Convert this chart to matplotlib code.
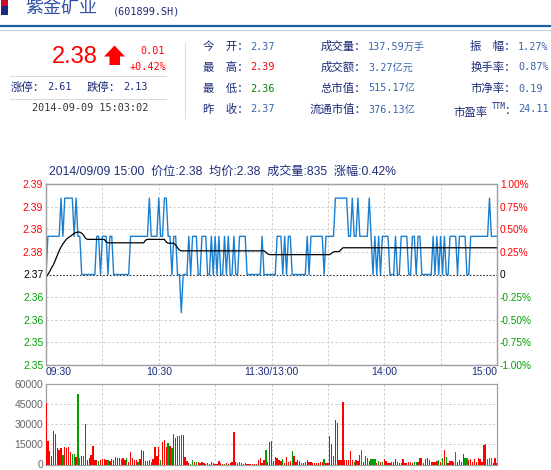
import matplotlib
matplotlib.use('Agg')
import matplotlib.pyplot as plt
from matplotlib.patches import Rectangle, Polygon

plt.rcParams['font.family'] = ['Liberation Sans', 'Noto Sans CJK SC']

W, H = 551, 470

# ---- 数据 ----
prev_close = 2.37

prices = [
    2.37, 2.38, 2.38, 2.38, 2.38, 2.38, 2.38, 2.38, 2.39, 2.38,
    2.39, 2.39, 2.39, 2.39, 2.39, 2.38, 2.39, 2.38, 2.38, 2.37,
    2.37, 2.37, 2.37, 2.37, 2.37, 2.37, 2.37, 2.38, 2.38, 2.37,
    2.38, 2.38, 2.38, 2.37, 2.38, 2.38, 2.37, 2.37, 2.37, 2.37,
    2.37, 2.37, 2.37, 2.37, 2.37, 2.38, 2.38, 2.38, 2.38, 2.38,
    2.38, 2.38, 2.38, 2.38, 2.38, 2.39, 2.38, 2.38, 2.38, 2.38,
    2.39, 2.38, 2.38, 2.39, 2.39, 2.38, 2.38, 2.37, 2.38, 2.38,
    2.37, 2.37, 2.36, 2.37, 2.37, 2.37, 2.38, 2.37, 2.38, 2.38,
    2.38, 2.37, 2.37, 2.38, 2.38, 2.38, 2.37, 2.37, 2.38, 2.37,
    2.38, 2.37, 2.38, 2.37, 2.37, 2.38, 2.37, 2.38, 2.37, 2.37,
    2.38, 2.37, 2.37, 2.38, 2.38, 2.38, 2.38, 2.37, 2.37, 2.37,
    2.37, 2.37, 2.37, 2.37, 2.37, 2.38, 2.37, 2.37, 2.37, 2.37,
    2.37, 2.37, 2.37, 2.38, 2.38, 2.38, 2.37, 2.38, 2.37, 2.38,
    2.38, 2.37, 2.37, 2.37, 2.37, 2.37, 2.37, 2.37, 2.37, 2.38,
    2.37, 2.38, 2.38, 2.38, 2.38, 2.38, 2.38, 2.38, 2.37, 2.38,
    2.38, 2.38, 2.38, 2.38, 2.39, 2.39, 2.39, 2.39, 2.39, 2.39,
    2.39, 2.38, 2.38, 2.39, 2.38, 2.38, 2.39, 2.38, 2.38, 2.38,
    2.38, 2.38, 2.39, 2.38, 2.37, 2.38, 2.37, 2.38, 2.37, 2.38,
    2.38, 2.38, 2.38, 2.37, 2.37, 2.37, 2.38, 2.37, 2.37, 2.38,
    2.38, 2.38, 2.38, 2.37, 2.37, 2.38, 2.38, 2.37, 2.38, 2.38,
    2.37, 2.37, 2.37, 2.37, 2.37, 2.37, 2.38, 2.37, 2.38, 2.37,
    2.38, 2.37, 2.38, 2.37, 2.37, 2.38, 2.38, 2.38, 2.38, 2.37,
    2.38, 2.38, 2.38, 2.38, 2.37, 2.37, 2.38, 2.38, 2.38, 2.38,
    2.38, 2.38, 2.38, 2.38, 2.38, 2.38, 2.39, 2.38, 2.38, 2.38,
    2.38,
]

avg_prices = [
    2.3693, 2.3700, 2.3708, 2.3718, 2.3726, 2.3738, 2.3750, 2.3762, 2.3772, 2.3780,
    2.3787, 2.3793, 2.3797, 2.3800, 2.3804, 2.3808, 2.3810, 2.3811, 2.3811, 2.3808,
    2.3803, 2.3795, 2.3792, 2.3792, 2.3792, 2.3792, 2.3792, 2.3792, 2.3792, 2.3792,
    2.3792, 2.3792, 2.3785, 2.3783, 2.3783, 2.3783, 2.3783, 2.3783, 2.3783, 2.3783,
    2.3783, 2.3783, 2.3783, 2.3783, 2.3783, 2.3783, 2.3783, 2.3783, 2.3783, 2.3783,
    2.3783, 2.3783, 2.3783, 2.3790, 2.3792, 2.3792, 2.3792, 2.3792, 2.3792, 2.3792,
    2.3792, 2.3792, 2.3792, 2.3792, 2.3785, 2.3782, 2.3782, 2.3782, 2.3782, 2.3777,
    2.3770, 2.3764, 2.3762, 2.3762, 2.3762, 2.3762, 2.3762, 2.3762, 2.3762, 2.3762,
    2.3762, 2.3762, 2.3762, 2.3762, 2.3762, 2.3762, 2.3762, 2.3762, 2.3762, 2.3762,
    2.3762, 2.3762, 2.3762, 2.3762, 2.3762, 2.3762, 2.3762, 2.3762, 2.3762, 2.3762,
    2.3762, 2.3762, 2.3762, 2.3762, 2.3762, 2.3762, 2.3762, 2.3762, 2.3762, 2.3762,
    2.3762, 2.3762, 2.3762, 2.3762, 2.3762, 2.3762, 2.3762, 2.3758, 2.3754, 2.3752,
    2.3752, 2.3752, 2.3752, 2.3752, 2.3752, 2.3752, 2.3752, 2.3752, 2.3752, 2.3752,
    2.3752, 2.3752, 2.3752, 2.3752, 2.3752, 2.3752, 2.3752, 2.3752, 2.3752, 2.3752,
    2.3752, 2.3752, 2.3752, 2.3752, 2.3752, 2.3752, 2.3752, 2.3752, 2.3752, 2.3752,
    2.3752, 2.3752, 2.3756, 2.3759, 2.3760, 2.3760, 2.3760, 2.3765, 2.3770, 2.3770,
    2.3770, 2.3770, 2.3770, 2.3770, 2.3770, 2.3770, 2.3770, 2.3770, 2.3770, 2.3770,
    2.3770, 2.3770, 2.3770, 2.3770, 2.3770, 2.3770, 2.3770, 2.3770, 2.3770, 2.3770,
    2.3770, 2.3770, 2.3770, 2.3770, 2.3770, 2.3770, 2.3770, 2.3770, 2.3770, 2.3770,
    2.3770, 2.3770, 2.3770, 2.3770, 2.3770, 2.3770, 2.3770, 2.3770, 2.3770, 2.3770,
    2.3770, 2.3770, 2.3770, 2.3770, 2.3770, 2.3770, 2.3770, 2.3770, 2.3770, 2.3770,
    2.3770, 2.3770, 2.3770, 2.3770, 2.3770, 2.3770, 2.3770, 2.3770, 2.3770, 2.3770,
    2.3770, 2.3770, 2.3770, 2.3770, 2.3770, 2.3770, 2.3770, 2.3770, 2.3770, 2.3770,
    2.3770, 2.3770, 2.3770, 2.3770, 2.3770, 2.3770, 2.3770, 2.3770, 2.3770, 2.3770,
    2.3770,
]

volumes = [
    45500, 17500, 10000, 6000, 25000, 23000, 12500, 11000, 12000, 7000,
    13000, 12500, 13000, 9500, 8000, 8000, 5500, 52500, 4500, 6500,
    6500, 30000, 3500, 5000, 7000, 13500, 3000, 3000, 2500, 3000,
    4000, 4000, 3500, 3000, 2500, 4000, 3500, 5500, 4500, 5000,
    4000, 5000, 3500, 5000, 2000, 9000, 5000, 3500, 3000, 2000,
    4000, 11000, 10000, 2500, 2500, 3000, 2000, 4000, 13000, 6000,
    13000, 3500, 17000, 18500, 13000, 16000, 14000, 12000, 23000, 20000,
    21000, 21000, 22000, 22000, 5500, 2500, 1000, 500, 3500, 1500,
    1500, 1500, 1000, 1500, 1000, 500, 1000, 500, 2000, 1000,
    500, 500, 2500, 1000, 500, 500, 1000, 500, 1000, 1500,
    24000, 1500, 1000, 2000, 1000, 500, 1000, 500, 500, 500,
    500, 500, 500, 3500, 5000, 1000, 3500, 11000, 1500, 17000,
    17500, 2500, 5500, 5000, 3500, 2500, 4000, 1000, 5500, 1500,
    2500, 10000, 6000, 2000, 3500, 2500, 1000, 1000, 2000, 3000,
    1500, 1500, 1000, 1000, 1000, 1000, 1500, 1500, 4000, 1000,
    1000, 21000, 15000, 6000, 33500, 31000, 3000, 3500, 46500, 3000,
    3000, 3000, 10000, 3500, 2000, 3000, 2500, 7000, 11000, 2000,
    6500, 4500, 2500, 4000, 4000, 4000, 1000, 2500, 1500, 1500,
    4000, 2500, 1000, 1000, 2000, 1500, 4000, 1500, 1000, 1000,
    4000, 1000, 1000, 1500, 1500, 1000, 2000, 2000, 1500, 4500,
    4500, 1000, 4000, 5000, 3000, 2000, 1500, 1500, 2500, 3500,
    1500, 5000, 11000, 5500, 1000, 2500, 2500, 2000, 9000, 2000,
    3500, 2000, 7500, 5000, 5000, 3500, 4000, 2000, 4000, 1500,
    5000, 4000, 2000, 14500, 15500, 4000, 4500, 5000, 1000, 5000,
    1000,
]

# 1 = 红柱, 0 = 绿柱
vol_up = [
    1, 1, 1, 1, 1, 1, 1, 1, 1, 0,
    1, 1, 1, 1, 0, 0, 1, 0, 0, 1,
    0, 1, 1, 1, 1, 1, 1, 1, 0, 1,
    1, 1, 1, 0, 1, 1, 1, 1, 1, 1,
    0, 1, 1, 0, 1, 1, 1, 1, 1, 0,
    1, 1, 1, 1, 1, 1, 0, 1, 1, 1,
    1, 0, 1, 1, 1, 0, 1, 0, 1, 1,
    1, 0, 0, 1, 1, 1, 1, 0, 0, 1,
    0, 1, 1, 1, 1, 1, 1, 1, 1, 1,
    1, 1, 1, 1, 1, 0, 1, 1, 1, 1,
    1, 1, 0, 1, 1, 1, 1, 1, 1, 1,
    1, 1, 1, 1, 1, 1, 1, 0, 1, 1,
    1, 1, 1, 1, 1, 1, 0, 1, 1, 1,
    1, 0, 1, 1, 1, 1, 1, 1, 1, 1,
    1, 1, 1, 1, 1, 1, 1, 1, 0, 1,
    1, 1, 1, 1, 1, 1, 1, 1, 1, 1,
    1, 1, 1, 1, 0, 1, 1, 1, 0, 1,
    1, 1, 1, 0, 0, 0, 1, 0, 1, 0,
    1, 1, 1, 1, 0, 1, 1, 1, 1, 1,
    1, 1, 1, 1, 1, 1, 0, 0, 1, 1,
    1, 1, 1, 1, 1, 1, 1, 1, 1, 0,
    1, 0, 1, 0, 1, 1, 1, 1, 0, 1,
    1, 1, 1, 0, 0, 1, 1, 1, 1, 1,
    1, 1, 1, 1, 1, 0, 0, 0, 1, 1,
    1,
]

time_ticks = [0, 60, 120, 180, 240]
time_labels = ['09:30', '10:30', '11:30/13:00', '14:00', '15:00']
pct_ticks = [1.00, 0.75, 0.50, 0.25, 0, -0.25, -0.50, -0.75, -1.00]
vol_ticks = [0, 15000, 30000, 45000, 60000]

title_text = '2014/09/09 15:00  价位:2.38  均价:2.38  成交量:835  涨幅:0.42%'

labels_1 = ['今　开：', '最　高：', '最　低：', '昨　收：']
values_1 = ['2.37', '2.39', '2.36', '2.37']
labels_2 = ['成交量：', '成交额：', '总市值：', '流通市值：']
values_2 = ['137.59万手', '3.27亿元', '515.17亿', '376.13亿']
labels_3 = ['振　幅：', '换手率：', '市净率：', '市盈率']
values_3 = ['1.27%', '0.87%', '0.19', '24.11']

RED = '#ff0000'
GREEN = '#00a000'
NAVY = '#1b2a78'
BLUE = '#3a64b0'
GRID = '#cfcfcf'
SPINE = '#a0a0a0'
MONO = ['DejaVu Sans Mono', 'Noto Sans CJK SC']
CJK = ['Noto Sans CJK SC', 'DejaVu Sans']

fig = plt.figure(figsize=(W / 100, H / 100), dpi=100)

# ---- 顶部行情信息 (像素坐标) ----
hdr = fig.add_axes([0, 0, 1, 1])
hdr.set_xlim(0, W)
hdr.set_ylim(H, 0)
hdr.axis('off')

hdr.add_patch(Rectangle((1, 0), 7, 6, color='#c8102e', lw=0))
hdr.add_patch(Rectangle((1, 6), 7, 9, color='#1a2a80', lw=0))
hdr.text(25, 8, '紫金矿业', fontsize=13, color='#3050a8', family=CJK, va='center')
hdr.text(113, 11, '(601899.SH)', fontsize=7.3, color=NAVY, family=MONO, va='center')
hdr.plot([0, W], [26, 26], color='#1a5ca8', lw=1.6)
hdr.plot([0, W], [29.5, 29.5], color='#c5d2e6', lw=0.8)

hdr.text(52, 57, '2.38', fontsize=17, color=RED, va='center')
hdr.add_patch(Polygon([(114.5, 45.5), (104, 56.5), (109.5, 56.5), (109.5, 65),
                       (120, 65), (120, 56.5), (125, 56.5)], closed=True, color=RED, lw=0))
hdr.text(165, 51, '0.01', fontsize=7.3, color=RED, family=MONO, va='center', ha='right')
hdr.text(166, 67, '+0.42%', fontsize=7.3, color=RED, family=MONO, va='center', ha='right')
hdr.plot([10, 166], [75.5, 75.5], color='#d3dbe9', lw=0.8)
hdr.plot([10, 166], [98.5, 98.5], color='#d3dbe9', lw=0.8)
hdr.plot([185, 185], [43, 118], color='#d8dde9', lw=0.8)

hdr.text(11, 87, '涨停：', fontsize=8.2, color=NAVY, family=CJK, va='center')
hdr.text(47, 87, '2.61', fontsize=7.3, color=NAVY, family=MONO, va='center')
hdr.text(87, 87, '跌停：', fontsize=8.2, color=NAVY, family=CJK, va='center')
hdr.text(123, 87, '2.13', fontsize=7.3, color=NAVY, family=MONO, va='center')
hdr.text(32, 108, '2014-09-09 15:03:02', fontsize=7.3, color='#333333', family=MONO, va='center')

row_y = [46.5, 67.5, 88.5, 109.5]
val_colors_1 = [BLUE, RED, '#008000', BLUE]
for lab, val, c, y in zip(labels_1, values_1, val_colors_1, row_y):
    hdr.text(203, y, lab, fontsize=8.2, color=NAVY, family=CJK, va='center')
    hdr.text(250, y, val, fontsize=7.3, color=c, family=MONO, va='center')
for lab, val, y in zip(labels_2, values_2, row_y):
    hdr.text(366, y, lab, fontsize=8.2, color=NAVY, family=CJK, va='center', ha='right')
    hdr.text(368, y, val, fontsize=7.3, color=BLUE, family=MONO, va='center')
for i, (lab, val, y) in enumerate(zip(labels_3, values_3, row_y)):
    if i == 3:
        hdr.text(487, y + 3, lab, fontsize=8.2, color=NAVY, family=CJK, va='center', ha='right')
        hdr.text(506, y - 3, 'TTM', fontsize=5.5, color=NAVY, family=MONO, va='center', ha='right')
        hdr.text(516, y + 1, '：', fontsize=8.2, color=NAVY, family=CJK, va='center', ha='right')
    else:
        hdr.text(516, y, lab, fontsize=8.2, color=NAVY, family=CJK, va='center', ha='right')
    hdr.text(518, y, val, fontsize=7.3, color=BLUE, family=MONO, va='center')

# ---- 分时图 ----
fig.text(49 / W, 1 - 172 / H, title_text, fontsize=8.7, color='#1f2d7a', va='center')

ax = fig.add_axes([46 / W, 1 - 365 / H, 451 / W, 181 / H])
minutes = list(range(len(prices)))
ax.plot(minutes, prices, color='#1b7fd0', lw=1.0, zorder=3)
ax.plot(minutes, avg_prices, color='black', lw=0.9, zorder=4)
ax.set_xlim(0, 240)
ax.set_ylim(prev_close * 0.99, prev_close * 1.01)

ytick_vals = [prev_close * (1 + p / 100) for p in pct_ticks]
ax.set_yticks(ytick_vals)
ax.set_yticklabels(['%.2f' % v for v in ytick_vals])
ax.set_xticks(time_ticks)
ax.set_xticklabels(time_labels)
ax.tick_params(axis='both', length=0, labelsize=7.5, pad=2)
ax.tick_params(axis='x', colors='#1a2a80', pad=1.5)
xl = ax.get_xticklabels()
xl[0].set_ha('left')
xl[-1].set_ha('right')

for t, p in zip(ax.get_yticklabels(), pct_ticks):
    t.set_color(RED if p > 0 else (GREEN if p < 0 else 'black'))

for v in ytick_vals[1:-1]:
    if abs(v - prev_close) > 1e-9:
        ax.axhline(v, color=GRID, lw=0.7, ls=(0, (2.5, 2)), zorder=1)
ax.axhline(prev_close, color='#333333', lw=0.8, ls=(0, (1.5, 1.5)), zorder=2)
for m in [30, 60, 90, 120, 150, 180, 210]:
    ax.axvline(m, color=GRID, lw=0.7, ls=(0, (2.5, 2)), zorder=1)
for s in ax.spines.values():
    s.set_color(SPINE)
    s.set_linewidth(0.9)

ax2 = ax.twinx()
ax2.set_ylim(ax.get_ylim())
ax2.set_yticks(ytick_vals)
ax2.set_yticklabels(['0' if p == 0 else '%.2f%%' % p for p in pct_ticks])
ax2.tick_params(axis='y', length=0, labelsize=7.3, pad=2)
for t, p in zip(ax2.get_yticklabels(), pct_ticks):
    t.set_color(RED if p > 0 else (GREEN if p < 0 else 'black'))
for s in ax2.spines.values():
    s.set_color(SPINE)
    s.set_linewidth(0.9)

# ---- 成交量 ----
axv = fig.add_axes([46 / W, 1 - 464.5 / H, 451 / W, 80.5 / H])
bar_colors = [RED if u else GREEN for u in vol_up]
axv.bar(minutes, volumes, width=0.7, color=bar_colors, lw=0, zorder=3)
axv.set_xlim(0, 240)
axv.set_ylim(0, 60000)
axv.set_yticks(vol_ticks)
axv.set_yticklabels([str(v) for v in vol_ticks])
axv.set_xticks([])
axv.tick_params(axis='y', length=0, labelsize=7.5, colors='#666666', pad=2)
for v in vol_ticks[1:-1]:
    axv.axhline(v, color=GRID, lw=0.7, ls=(0, (2.5, 2)), zorder=1)
for m in [30, 60, 90, 120, 150, 180, 210]:
    axv.axvline(m, color=GRID, lw=0.7, ls=(0, (2.5, 2)), zorder=1)
for s in axv.spines.values():
    s.set_color(SPINE)
    s.set_linewidth(0.9)

fig.savefig('out.png', dpi=100)
